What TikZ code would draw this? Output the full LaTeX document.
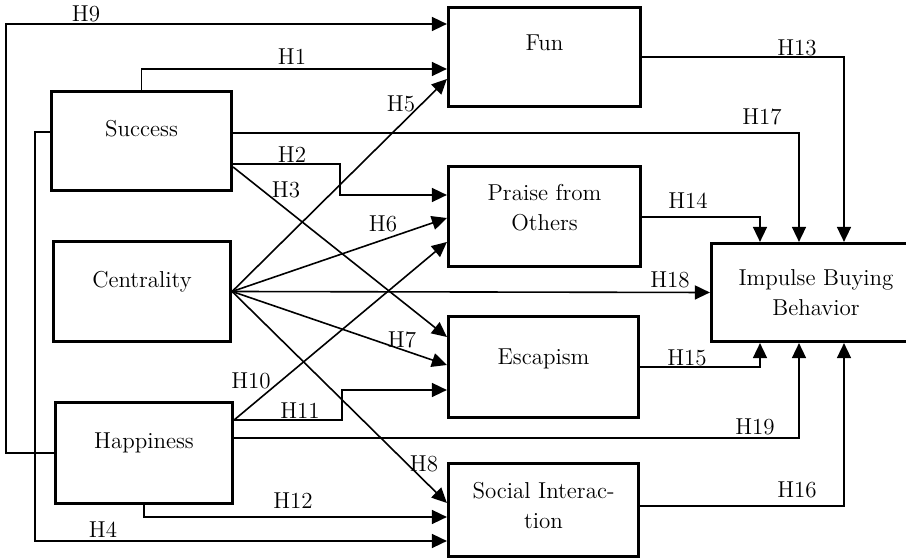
\documentclass[tikz,border=0pt]{standalone}
\usetikzlibrary{arrows.meta}

\begin{document}
\begin{tikzpicture}[x=0.5pt,y=-0.5pt,%
    box/.style={draw,line width=1.6pt,inner sep=0pt,align=center,%
      font=\fontsize{11.5}{15}\selectfont},%
    one/.style={text height=8pt,text depth=12pt},%
    link/.style={line width=0.8pt,-{Triangle[length=7.5pt,width=7pt]}},%
    hyp/.style={font=\fontsize{11.5}{15}\selectfont,inner sep=0pt}]
  \clip (0,0) rectangle (906,560);%
  % constructs
  \node[box,one,minimum width=90pt,minimum height=49.5pt] (success) at (141.5,141) {Success};%
  \node[box,one,minimum width=88.5pt,minimum height=50pt] (centrality) at (142,291.5) {Centrality};%
  \node[box,one,minimum width=88.5pt,minimum height=50.5pt] (happiness) at (144,453) {Happiness};%
  \node[box,one,text depth=14pt,minimum width=96pt,minimum height=49.5pt] (fun) at (544.5,57) {Fun};%
  \node[box,text depth=9pt,minimum width=96pt,minimum height=50pt] (praise) at (544.5,216.5) {Praise from\\Others};%
  \node[box,one,text depth=10pt,minimum width=95pt,minimum height=50.5pt] (escapism) at (543.5,367) {Escapism};%
  \node[box,text depth=4.5pt,minimum width=95pt,minimum height=46.5pt] (social) at (543.5,510) {Social Interac-\\tion};%
  \node[box,minimum width=104.5pt,minimum height=49pt] (impulse) at (816,292.5) {Impulse Buying\\Behavior};%
  %
  % success
  \draw[link] (success.north) |- (fun.west |- 0,69);%
  \draw[link] (success.east |- 0,133) -| (impulse.north -| 799,0);%
  \draw[link] (success.east |- 0,164) -| (340,195) -- (praise.west |- 0,195);%
  \draw[link] (success.east |- 0,167) -- (escapism.west |- 0,337);%
  \draw[link] (success.west |- 0,132) -| (35,541) -- (social.west |- 0,541);%
  % centrality
  \foreach \t/\y in {fun/79,praise/218,escapism/365,social/503}%
  \draw[link] (centrality.east) -- (\t.west |- 0,\y);%
  \draw[link] (centrality.east) -- (impulse.west);%
  % happiness
  \draw[link] (happiness.west) -| (6,24) -- (fun.west |- 0,24);%
  \draw[link] (happiness.east |- 0,420) -- (praise.west |- 0,242);%
  \draw[link] (happiness.east |- 0,420) -| (342,390) -- (escapism.west |- 0,390);%
  \draw[link] (happiness.east |- 0,438) -| (impulse.south -| 799,0);%
  \draw[link] (happiness.south) |- (social.west |- 0,517);%
  % mediators
  \draw[link] (fun.east) -| (impulse.north -| 844,0);%
  \draw[link] (praise.east |- 0,217) -| (impulse.north -| 760,0);%
  \draw[link] (escapism.east) -| (impulse.south -| 760,0);%
  \draw[link] (social.east |- 0,506) -| (impulse.south -| 844,0);%
  %
  \foreach \t/\x/\y in {9/86/14,1/292/57,5/401/104,2/292/155,3/286/190,%
      6/383/224,7/402/340,10/251/381,11/300/411,8/424/464,12/293/501,%
      4/103/530,13/797/48,17/762/117,14/688/201,18/670/280,15/687/358,%
      19/755/427,16/797/490}%
  \node[hyp] (h\t) at (\x,\y) {H\t};%
\end{tikzpicture}
\end{document}
